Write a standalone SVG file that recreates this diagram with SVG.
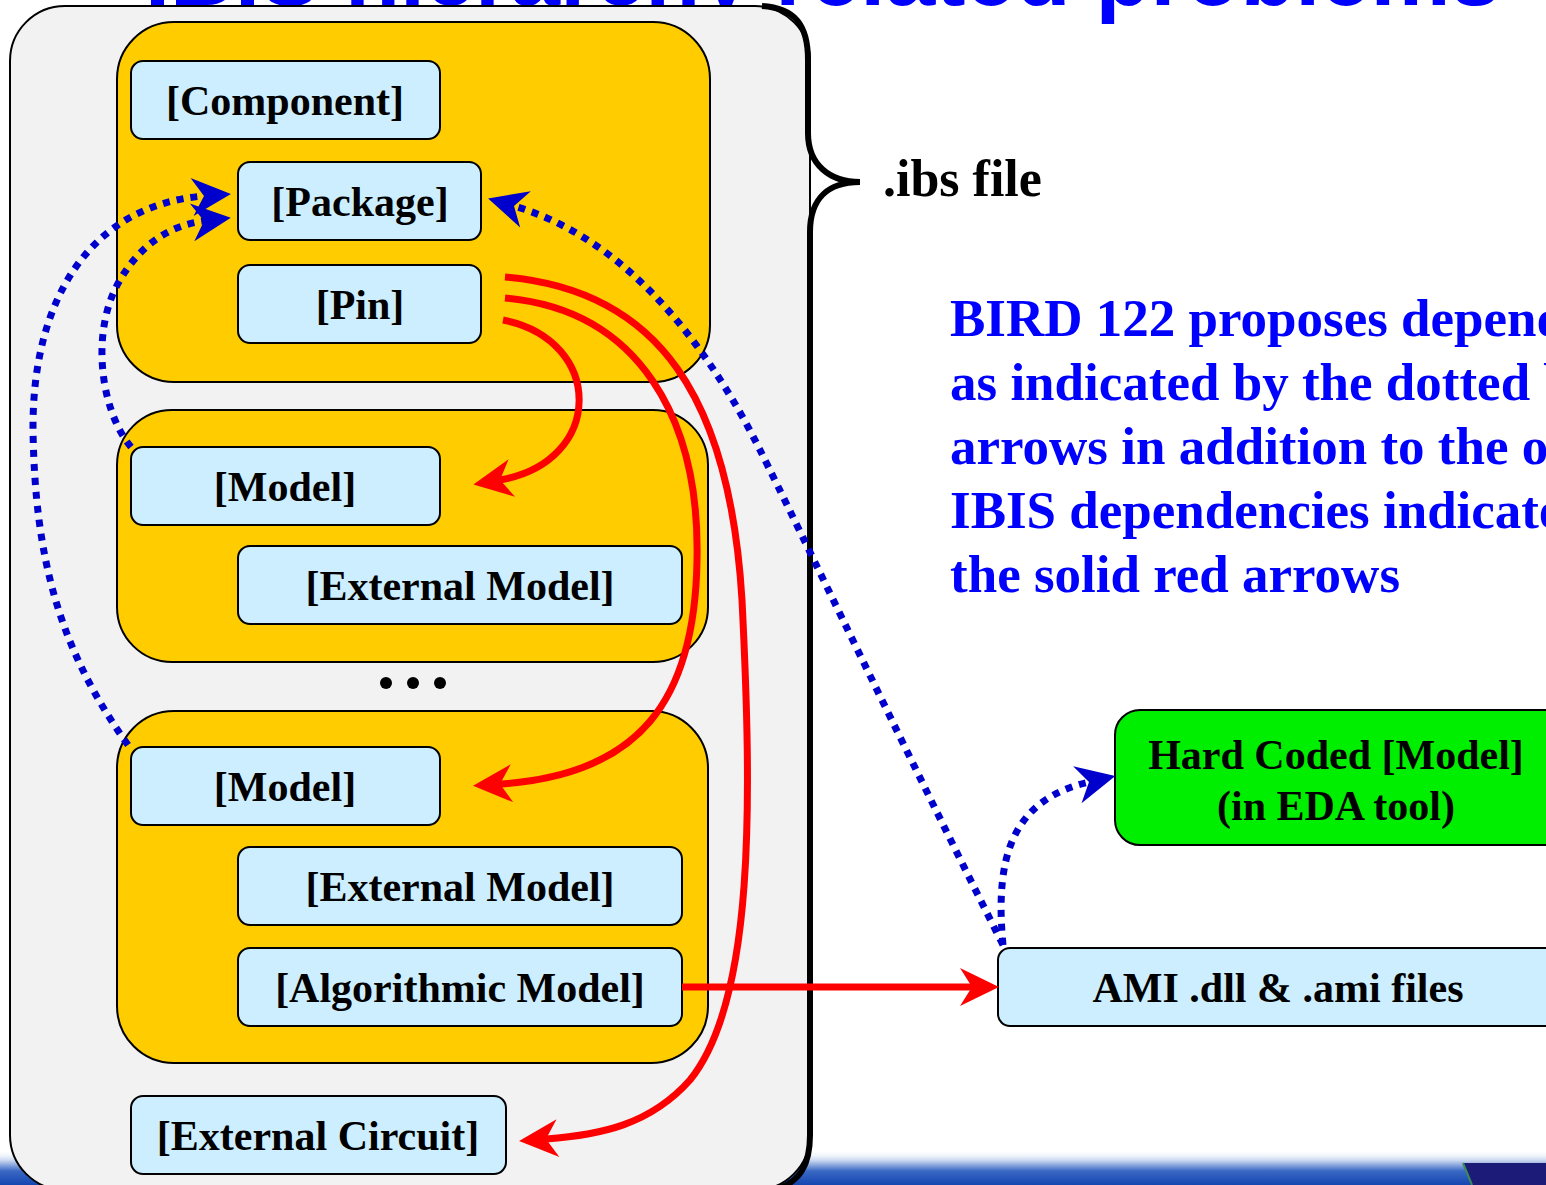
<svg xmlns="http://www.w3.org/2000/svg" width="1546" height="1185" viewBox="0 0 1546 1185">
<defs>
<style>
.grp{fill:#ffcc00;stroke:#000;stroke-width:2}
.nd{fill:#cceeff;stroke:#000;stroke-width:2}
.lb{font-family:"Liberation Serif","Times New Roman",serif;font-weight:bold;font-size:42px;fill:#000;text-anchor:middle}
.red{fill:none;stroke:#ff0000;stroke-width:7}
.blue{fill:none;stroke:#0000cc;stroke-width:7;stroke-dasharray:7 7}
.para{font-family:"Liberation Serif","Times New Roman",serif;font-weight:bold;font-size:53px;fill:#0000ff}
</style>
<linearGradient id="bar" x1="0" y1="0" x2="0" y2="1">
<stop offset="0" stop-color="#ffffff" stop-opacity="0"/>
<stop offset="0.3" stop-color="#c8d6f0"/>
<stop offset="0.6" stop-color="#3a68c4"/>
<stop offset="1" stop-color="#1446b0"/>
</linearGradient>
<marker id="ar" markerUnits="userSpaceOnUse" markerWidth="80" markerHeight="80" viewBox="-40 -40 80 80" refX="0" refY="0" orient="auto" overflow="visible">
<path d="M27,0 L-12,-19 L0,0 L-12,19 Z" fill="#ff0000"/>
</marker>
<marker id="ab" markerUnits="userSpaceOnUse" markerWidth="80" markerHeight="80" viewBox="-40 -40 80 80" refX="0" refY="0" orient="auto" overflow="visible">
<path d="M27,0 L-12,-19 L0,0 L-12,19 Z" fill="#0000cc"/>
</marker>
</defs>
<rect width="1546" height="1185" fill="#ffffff"/>
<g id="background-bar">
<rect x="0" y="1150" width="1546" height="35" fill="url(#bar)"/>
<polygon points="1463,1163 1546,1163 1546,1185 1472,1185" fill="#1c1c78"/>
<line x1="1463" y1="1163" x2="1472" y2="1185" stroke="#3a8a5a" stroke-width="2"/>
</g>
<text id="title" x="145" y="5" font-family="Liberation Sans, Arial, sans-serif" font-weight="bold" font-size="90" fill="#0000ff">IBIS hierarchy related problems</text>
<g id="ibs-file">
<rect x="10" y="6" width="800" height="1184" rx="55" ry="55" fill="#f2f2f2" stroke="#000" stroke-width="2"/>
<path d="M762,6 C795,8 808,25 808,60 L808,133 C808,165 830,182 860,182 C830,182 810,197 810,232 L810,1135 C810,1165 800,1182 775,1190" fill="none" stroke="#000" stroke-width="6"/>
<text x="883" y="196" font-family="Liberation Serif, Times New Roman, serif" font-weight="bold" font-size="52" fill="#000">.ibs file</text>
</g>
<g id="group-component"><rect class="grp" x="117" y="22" width="593" height="360" rx="57"/></g>
<g id="group-model1"><rect class="grp" x="117" y="410" width="591" height="252" rx="55"/></g>
<g id="group-model2"><rect class="grp" x="117" y="711" width="591" height="352" rx="57"/></g>
<g id="ellipsis">
<circle cx="386" cy="683" r="6" fill="#000"/>
<circle cx="413" cy="683" r="6" fill="#000"/>
<circle cx="440" cy="683" r="6" fill="#000"/>
</g>
<g id="component"><rect class="nd" x="131" y="61" width="309" height="78" rx="12"/><text class="lb" x="285" y="115">[Component]</text></g>
<g id="package"><rect class="nd" x="238" y="162" width="243" height="78" rx="12"/><text class="lb" x="360" y="216">[Package]</text></g>
<g id="pin"><rect class="nd" x="238" y="265" width="243" height="78" rx="12"/><text class="lb" x="360" y="319">[Pin]</text></g>
<g id="model1"><rect class="nd" x="131" y="447" width="309" height="78" rx="12"/><text class="lb" x="285" y="501">[Model]</text></g>
<g id="extmodel1"><rect class="nd" x="238" y="546" width="444" height="78" rx="12"/><text class="lb" x="460" y="600">[External Model]</text></g>
<g id="model2"><rect class="nd" x="131" y="747" width="309" height="78" rx="12"/><text class="lb" x="285" y="801">[Model]</text></g>
<g id="extmodel2"><rect class="nd" x="238" y="847" width="444" height="78" rx="12"/><text class="lb" x="460" y="901">[External Model]</text></g>
<g id="algomodel"><rect class="nd" x="238" y="948" width="444" height="78" rx="12"/><text class="lb" x="460" y="1002">[Algorithmic Model]</text></g>
<g id="extcircuit"><rect class="nd" x="131" y="1096" width="375" height="78" rx="12"/><text class="lb" x="318" y="1150">[External Circuit]</text></g>
<g id="ami"><rect class="nd" x="998" y="948" width="600" height="78" rx="12"/><text class="lb" x="1278" y="1002">AMI .dll &amp; .ami files</text></g>
<g id="hardcoded"><rect x="1115" y="710" width="480" height="135" rx="25" fill="#00ee00" stroke="#000" stroke-width="2"/><text class="lb" x="1336" y="769">Hard Coded [Model]</text><text class="lb" x="1336" y="820">(in EDA tool)</text></g>
<g id="note">
<text class="para" x="950" y="336">BIRD 122 proposes dependencies</text>
<text class="para" x="950" y="400">as indicated by the dotted blue</text>
<text class="para" x="950" y="464">arrows in addition to the original</text>
<text class="para" x="950" y="528">IBIS dependencies indicated by</text>
<text class="para" x="950" y="592">the solid red arrows</text>
</g>
<g id="connectors">
<path class="red" d="M503,320 C605,340 605,462 500,480" marker-end="url(#ar)"/>
<path class="red" d="M505,298 C640,310 700,420 697,560 C695,700 640,775 500,784" marker-end="url(#ar)"/>
<path class="red" d="M505,277 C660,290 730,400 742,600 C752,800 755,1000 690,1080 C650,1125 600,1135 546,1139" marker-end="url(#ar)"/>
<path class="red" d="M682,987 L972,987" marker-end="url(#ar)"/>
<path class="blue" d="M128,745 C60,650 35,560 33,430 C32,300 90,205 204,196" marker-end="url(#ab)"/>
<path class="blue" d="M131,447 C100,410 90,330 120,280 C140,245 170,225 204,221" marker-end="url(#ab)"/>
<path class="blue" d="M1003,945 C900,740 800,530 760,450 C710,350 630,240 514,206" marker-end="url(#ab)"/>
<path class="blue" d="M1003,945 C995,860 1010,800 1089,782" marker-end="url(#ab)"/>
</g>
</svg>
